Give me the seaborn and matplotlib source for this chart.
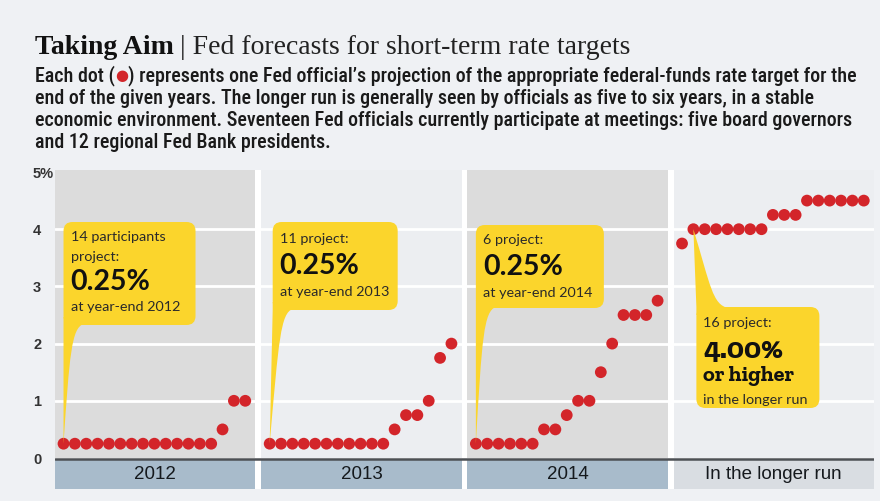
import matplotlib
matplotlib.use("Agg")
import matplotlib.pyplot as plt
import seaborn as sns
import pandas as pd
from matplotlib import font_manager
from matplotlib.patches import FancyBboxPatch, PathPatch, Rectangle
from matplotlib.path import Path
from matplotlib.transforms import IdentityTransform

# ---------------- data ----------------
groups = ["2012", "2013", "2014", "In the longer run"]
rates_2012 = [0.25] * 14 + [0.5, 1.0, 1.0]
rates_2013 = [0.25] * 11 + [0.5, 0.75, 0.75, 1.0, 1.75, 2.0]
rates_2014 = [0.25] * 6 + [0.5, 0.5, 0.75, 1.0, 1.0, 1.5, 2.0, 2.5, 2.5, 2.5, 2.75]
rates_long = [3.75] + [4.0] * 7 + [4.25] * 3 + [4.5] * 6
y_ticks = [0, 1, 2, 3, 4, 5]
y_tick_labels = ["0", "1", "2", "3", "4", "5%"]
callout_heads = [["14 participants", "project:"], ["11 project:"], ["6 project:"], ["16 project:"]]
callout_values = [["0.25%"], ["0.25%"], ["0.25%"], ["4.00%", "or higher"]]
callout_foots = ["at year-end 2012", "at year-end 2013", "at year-end 2014", "in the longer run"]
callout_tip_index = [0, 0, 0, 1]
title_bold = "Taking Aim"
title_rest = "| Fed forecasts for short-term rate targets"
subtitle_lines = [
    "represents one Fed official\u2019s projection of the appropriate federal-funds rate target for the",
    "end of the given years. The longer run is generally seen by officials as five to six years, in a stable",
    "economic environment. Seventeen Fed officials currently participate at meetings: five board governors",
    "and 12 regional Fed Bank presidents.",
]

# ---------------- fonts ----------------
sns.set_theme(style="white")
names = {f.name for f in font_manager.fontManager.ttflist}


def pick(*cands, default="DejaVu Sans"):
    for c in cands:
        if c in names:
            return c
    return default


NARROW = pick("Roboto Condensed", "Liberation Sans Narrow", "Open Sans Condensed")
SERIF = pick("Liberation Serif", default="DejaVu Serif")
SLAB = pick("Zilla Slab", "Roboto Slab", default="DejaVu Serif")
BOXF = pick("Lato", "Open Sans")
plt.rcParams["font.family"] = [NARROW, "DejaVu Sans"]

# ---------------- layout ----------------
W, H = 880, 501
S = 18.15  # spacing between groups in dot units
BG = "#eff1f4"
DARK = "#dcdcdc"
LIGHT = "#eceef1"
BAND = "#a8bbcb"
BAND_LIGHT = "#d9dde2"
YELLOW = "#fbd52c"
RED = "#d3252a"

rows = []
for g, (name, vals) in enumerate(zip(groups, [rates_2012, rates_2013, rates_2014, rates_long])):
    for i, v in enumerate(vals):
        rows.append({"group": name, "x": g * S + i, "rate": v})
df = pd.DataFrame(rows)

fig = plt.figure(figsize=(W / 100, H / 100), dpi=100, facecolor=BG)
ax = fig.add_axes([55 / W, 1 - 489 / H, 819 / W, 319 / H])
ax.set_facecolor("white")
px_per_unit = 57.2
ymin = -(489 - 458) / px_per_unit
ymax = (458 - 170) / px_per_unit
ax.set_xlim(-0.75, 71.35)
ax.set_ylim(ymin, ymax)

for g, name in enumerate(groups):
    x0, x1 = g * S - 0.75, g * S + 16.9
    ax.add_patch(Rectangle((x0, 0), x1 - x0, ymax, color=DARK if g % 2 == 0 else LIGHT, zorder=0.5, lw=0))
    ax.add_patch(Rectangle((x0, ymin), x1 - x0, -0.04 - ymin,
                           color=BAND if g < 3 else BAND_LIGHT, zorder=0.5, lw=0))
    ax.text((x0 + x1) / 2, -0.29, name, ha="center", va="center", fontsize=13.5,
            color="#15191d", family=["Liberation Sans", "DejaVu Sans"], zorder=3)

for yv in y_ticks[1:-1]:
    ax.axhline(yv, color="white", lw=2, zorder=1)
ax.axhline(-0.02, color="#4d5054", lw=1.8, zorder=2)

sns.scatterplot(data=df, x="x", y="rate", color=RED, s=72, edgecolor="none",
                linewidth=0, ax=ax, zorder=6, legend=False)
ax.set_xlabel("")
ax.set_ylabel("")
ax.set_xticks([])
ax.set_yticks(y_ticks)
ax.set_yticklabels(y_tick_labels)
ax.tick_params(axis="y", length=0, pad=22 * 0.72)
for lab in ax.get_yticklabels():
    lab.set_ha("left")
    lab.set_fontweight("bold")
    lab.set_fontsize(10.5)
    lab.set_color("#333333")
    lab.set_family(["Liberation Sans", "DejaVu Sans"])
for sp in ax.spines.values():
    sp.set_visible(False)

# ---------------- callouts ----------------
fig.canvas.draw()
r = fig.canvas.get_renderer()
IT = IdentityTransform()


def P(x, y):
    return (x, H - y)


all_rates = [rates_2012, rates_2013, rates_2014, rates_long]
# box geometry (pixels from top-left): dx from tip, top, width, bottom
boxes = [(0, 222, 132, 325), (3, 222, 125, 310), (0, 225, 128, 308), (3, 307, 123, 408)]
line_offsets = [
    [15, 35, 60, 85],
    [17, 44, 70],
    [15, 42, 68],
    [16, 44, 69, 93],
]
for g in range(4):
    ti = callout_tip_index[g]
    tx, ty_disp = ax.transData.transform((g * S + ti, all_rates[g][ti]))
    ty = H - ty_disp
    dx, top, bw, bot = boxes[g]
    bl = tx + dx
    box = FancyBboxPatch(P(bl, bot), bw, bot - top, boxstyle="round,pad=0,rounding_size=9",
                         transform=IT, facecolor=YELLOW, edgecolor="none", zorder=4)
    fig.add_artist(box)
    if g < 3:
        verts = [P(bl, bot - 8), P(bl, bot), P(tx, ty),
                 P(bl + 6, bot + 30), P(bl + 8, bot + 3), P(bl + 20, bot - 1),
                 P(bl + 20, bot - 8), P(bl, bot - 8)]
    else:
        verts = [P(bl, top + 8), P(bl, top), P(tx, ty),
                 P(bl + 14, top - 22), P(bl + 16, top - 2), P(bl + 32, top + 1),
                 P(bl + 32, top + 8), P(bl, top + 8)]
    codes = [Path.MOVETO, Path.LINETO, Path.LINETO, Path.CURVE4, Path.CURVE4, Path.CURVE4,
             Path.LINETO, Path.CLOSEPOLY]
    fig.add_artist(PathPatch(Path(verts, codes), transform=IT, facecolor=YELLOW,
                             edgecolor="none", zorder=4))
    lines = [(t, "head") for t in callout_heads[g]] + [(t, "value") for t in callout_values[g]] + \
            [(callout_foots[g], "foot")]
    for (t, kind), off in zip(lines, line_offsets[g]):
        if kind == "value" and g == 3:
            kw = dict(fontsize=21.5 if t[0].isdigit() else 16, fontweight="bold",
                      family=[SLAB, "DejaVu Serif"], color="#111111")
        elif kind == "value":
            kw = dict(fontsize=20.5, fontweight="bold", family=[BOXF, "DejaVu Sans"], color="#111111")
        else:
            kw = dict(fontsize=10.4, family=[BOXF, "DejaVu Sans"], color="#2a2a2a")
        fig.text(*P(bl + 7, top + off), t, transform=IT, ha="left", va="center", zorder=7, **kw)

# ---------------- title & subtitle ----------------
t1 = fig.text(*P(35, 47), title_bold, transform=IT, ha="left", va="center", fontsize=20,
              fontweight="bold", family=[SERIF], color="#111111")
w1 = t1.get_window_extent(r).width
t2 = fig.text(*P(35 + w1 + 6, 47), title_rest, transform=IT, ha="left", va="center", fontsize=20,
              family=[SERIF], color="#222222")
tot = w1 + 6 + t2.get_window_extent(r).width
sc = 595 / tot
t1.set_fontsize(20 * sc)
t2.set_fontsize(20 * sc)
w1 = t1.get_window_extent(r).width
t2.set_position(P(35 + w1 + 6 * sc, 47))

SUBF = [NARROW, "DejaVu Sans"]
sub_y = [76, 98, 120, 142]
p1 = fig.text(*P(35, sub_y[0]), "Each dot (", transform=IT, ha="left", va="center",
              fontsize=13, family=SUBF, fontweight="medium", color="#1a1a1a")
p2 = fig.text(0, 0, "\u25cf", transform=IT, ha="left", va="center", fontsize=10,
              family=["DejaVu Sans"], color=RED)
p3 = fig.text(0, 0, ") " + subtitle_lines[0], transform=IT, ha="left", va="center",
              fontsize=13, family=SUBF, fontweight="medium", color="#1a1a1a")


def place_line1(fs):
    p1.set_fontsize(fs)
    p3.set_fontsize(fs)
    p2.set_fontsize(fs * 0.75)
    a = p1.get_window_extent(r).width
    p2.set_position(P(35 + a, sub_y[0]))
    b = p2.get_window_extent(r).width
    p3.set_position(P(35 + a + b, sub_y[0]))
    return a + b + p3.get_window_extent(r).width


wline = place_line1(13)
fs = 13 * 823 / wline
place_line1(fs)
for yy, txt in zip(sub_y[1:], subtitle_lines[1:]):
    fig.text(*P(35, yy), txt, transform=IT, ha="left", va="center", fontsize=fs, family=SUBF,
             fontweight="medium", color="#1a1a1a")

fig.savefig("out.png", dpi=100, facecolor=BG)
